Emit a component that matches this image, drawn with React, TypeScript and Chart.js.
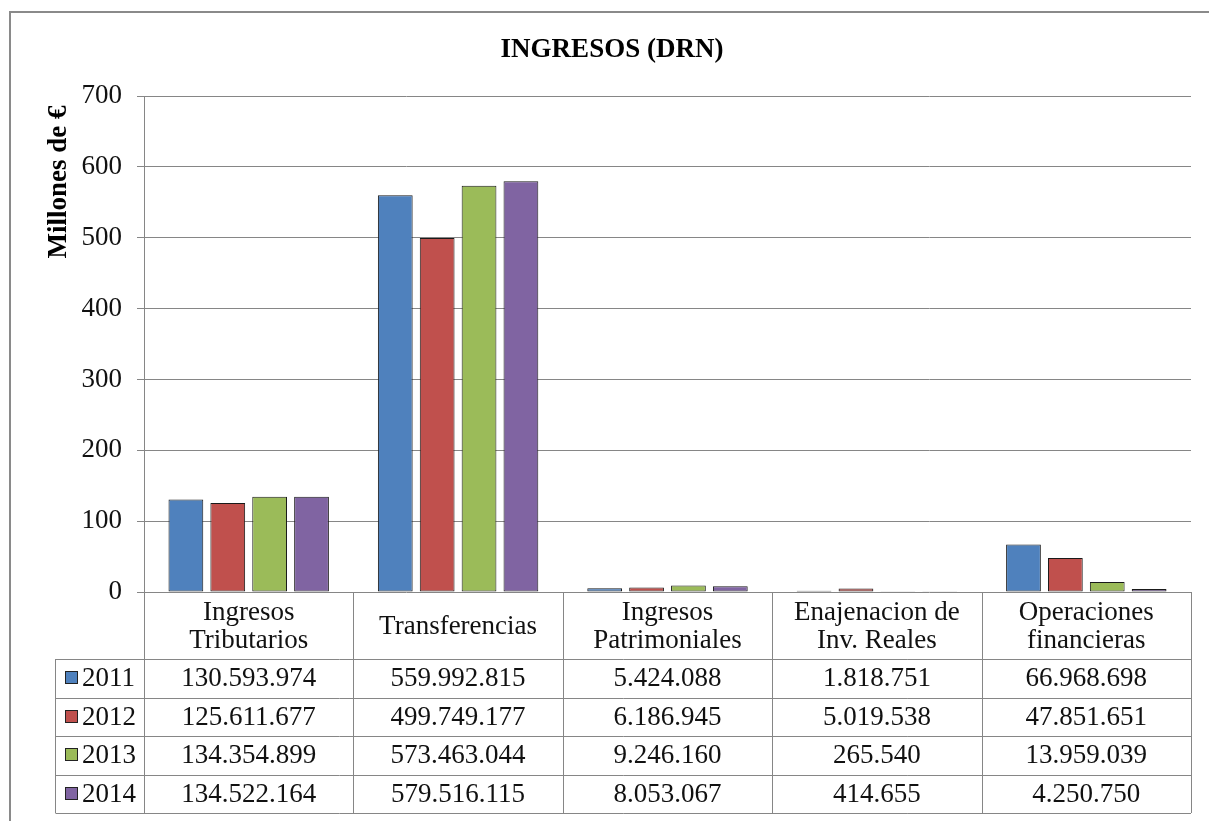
import React, { useEffect, useRef } from "react";
import { Chart, registerables } from "chart.js";

Chart.register(...registerables);

const chartTitle = "INGRESOS (DRN)";
const yAxisTitle = "Millones de €";
const categories: string[][] = [
  ["Ingresos", "Tributarios"],
  ["Transferencias"],
  ["Ingresos", "Patrimoniales"],
  ["Enajenacion de", "Inv. Reales"],
  ["Operaciones", "financieras"],
];
const years = ["2011", "2012", "2013", "2014"];
const colors = ["#4F81BD", "#C0504D", "#9BBB59", "#8064A2"];
const v2011 = [130593974, 559992815, 5424088, 1818751, 66968698];
const v2012 = [125611677, 499749177, 6186945, 5019538, 47851651];
const v2013 = [134354899, 573463044, 9246160, 265540, 13959039];
const v2014 = [134522164, 579516115, 8053067, 414655, 4250750];
const seriesValues = [v2011, v2012, v2013, v2014];
const yMin = 0;
const yMax = 700;
const yStep = 100;

const FONT = "'Liberation Serif', 'Times New Roman', serif";
const GRID = "#868686";
const FS = 27;

const fmt = (n: number) => String(n).replace(/\B(?=(\d{3})+(?!\d))/g, ".");

const tablePlugin = {
  id: "tablePlugin",
  afterDraw(chart: any) {
    const ctx: CanvasRenderingContext2D = chart.ctx;
    const area = chart.chartArea;
    const W = chart.width;
    ctx.save();

    // outer border
    ctx.strokeStyle = "#8a8a8a";
    ctx.lineWidth = 2;
    ctx.strokeRect(10, 12, W + 10, 900);

    // title
    ctx.fillStyle = "#000";
    ctx.font = `bold ${FS}px ${FONT}`;
    ctx.textAlign = "center";
    ctx.textBaseline = "alphabetic";
    ctx.fillText(chartTitle, 612, 57);

    // y axis title
    ctx.save();
    ctx.translate(59, 182);
    ctx.rotate(-Math.PI / 2);
    ctx.textBaseline = "middle";
    ctx.fillText(yAxisTitle, 0, 0);
    ctx.restore();

    // table
    const left = area.left;
    const right = area.right;
    const n = categories.length;
    const colW = (right - left) / n;
    const top = area.bottom;
    const headerBottom = top + 67;
    const rowH = 38.5;
    const tableBottom = headerBottom + rowH * years.length;
    const legendLeft = 55.5;

    ctx.strokeStyle = GRID;
    ctx.lineWidth = 1;
    ctx.beginPath();
    for (let i = 0; i <= n; i++) {
      const x = Math.round(left + i * colW) + 0.5;
      ctx.moveTo(x, top);
      ctx.lineTo(x, tableBottom);
    }
    ctx.moveTo(legendLeft, headerBottom);
    ctx.lineTo(legendLeft, tableBottom);
    for (let r = 0; r <= years.length; r++) {
      const y = Math.round(headerBottom + r * rowH) + 0.5;
      ctx.moveTo(legendLeft, y);
      ctx.lineTo(right, y);
    }
    ctx.stroke();

    ctx.fillStyle = "#111";
    ctx.font = `${FS}px ${FONT}`;
    ctx.textAlign = "center";
    ctx.textBaseline = "middle";
    const xScale = chart.scales.x;
    for (let i = 0; i < n; i++) {
      const cx = xScale.getPixelForValue(i);
      const lines = categories[i];
      const cy = (top + headerBottom) / 2 + 1;
      const lh = 28;
      lines.forEach((ln, k) => {
        ctx.fillText(ln, cx, cy + (k - (lines.length - 1) / 2) * lh);
      });
      for (let r = 0; r < years.length; r++) {
        const ry = headerBottom + r * rowH + rowH / 2 + 1;
        ctx.fillText(fmt(seriesValues[r][i]), cx, ry);
      }
    }

    // legend keys
    for (let r = 0; r < years.length; r++) {
      const ry = headerBottom + r * rowH + rowH / 2;
      ctx.fillStyle = colors[r];
      ctx.fillRect(65, Math.round(ry - 7), 13, 13);
      ctx.strokeStyle = "#222";
      ctx.strokeRect(65.5, Math.round(ry - 7) + 0.5, 12, 12);
      ctx.fillStyle = "#111";
      ctx.textAlign = "left";
      ctx.fillText(years[r], 82, ry + 1);
    }
    ctx.restore();
  },
};

export default function App() {
  const ref = useRef<HTMLCanvasElement | null>(null);
  useEffect(() => {
    if (!ref.current) return;
    Chart.defaults.font.family = FONT;
    const chart = new Chart(ref.current, {
      type: "bar",
      data: {
        labels: categories.map((c) => c.join(" ")),
        datasets: years.map((y, i) => ({
          label: y,
          data: seriesValues[i].map((v) => v / 1e6),
          backgroundColor: colors[i],
          borderColor: "#1a1a1a",
          borderWidth: 1,
          borderSkipped: false,
          barPercentage: 0.83,
          categoryPercentage: 0.8,
        })),
      },
      options: {
        responsive: false,
        animation: false,
        layout: { padding: { top: 96, bottom: 229, left: 9, right: 18 } },
        plugins: {
          legend: { display: false },
          title: { display: false },
          tooltip: { enabled: false },
        },
        scales: {
          x: { display: false },
          y: {
            min: yMin,
            max: yMax,
            ticks: {
              stepSize: yStep,
              color: "#111",
              padding: 15,
              font: { size: FS, family: FONT },
            },
            grid: { color: GRID, tickLength: 7, lineWidth: 1 },
            border: { display: true, color: GRID },
            afterFit: (scale: any) => {
              scale.width = 135;
            },
          } as any,
        },
      },
      plugins: [tablePlugin],
    });
    return () => chart.destroy();
  }, []);
  return (
    <div style={{ position: "absolute", left: 0, top: 0, width: 1209, height: 821, background: "#fff" }}>
      <canvas ref={ref} width={1209} height={821} style={{ display: "block" }} />
    </div>
  );
}
